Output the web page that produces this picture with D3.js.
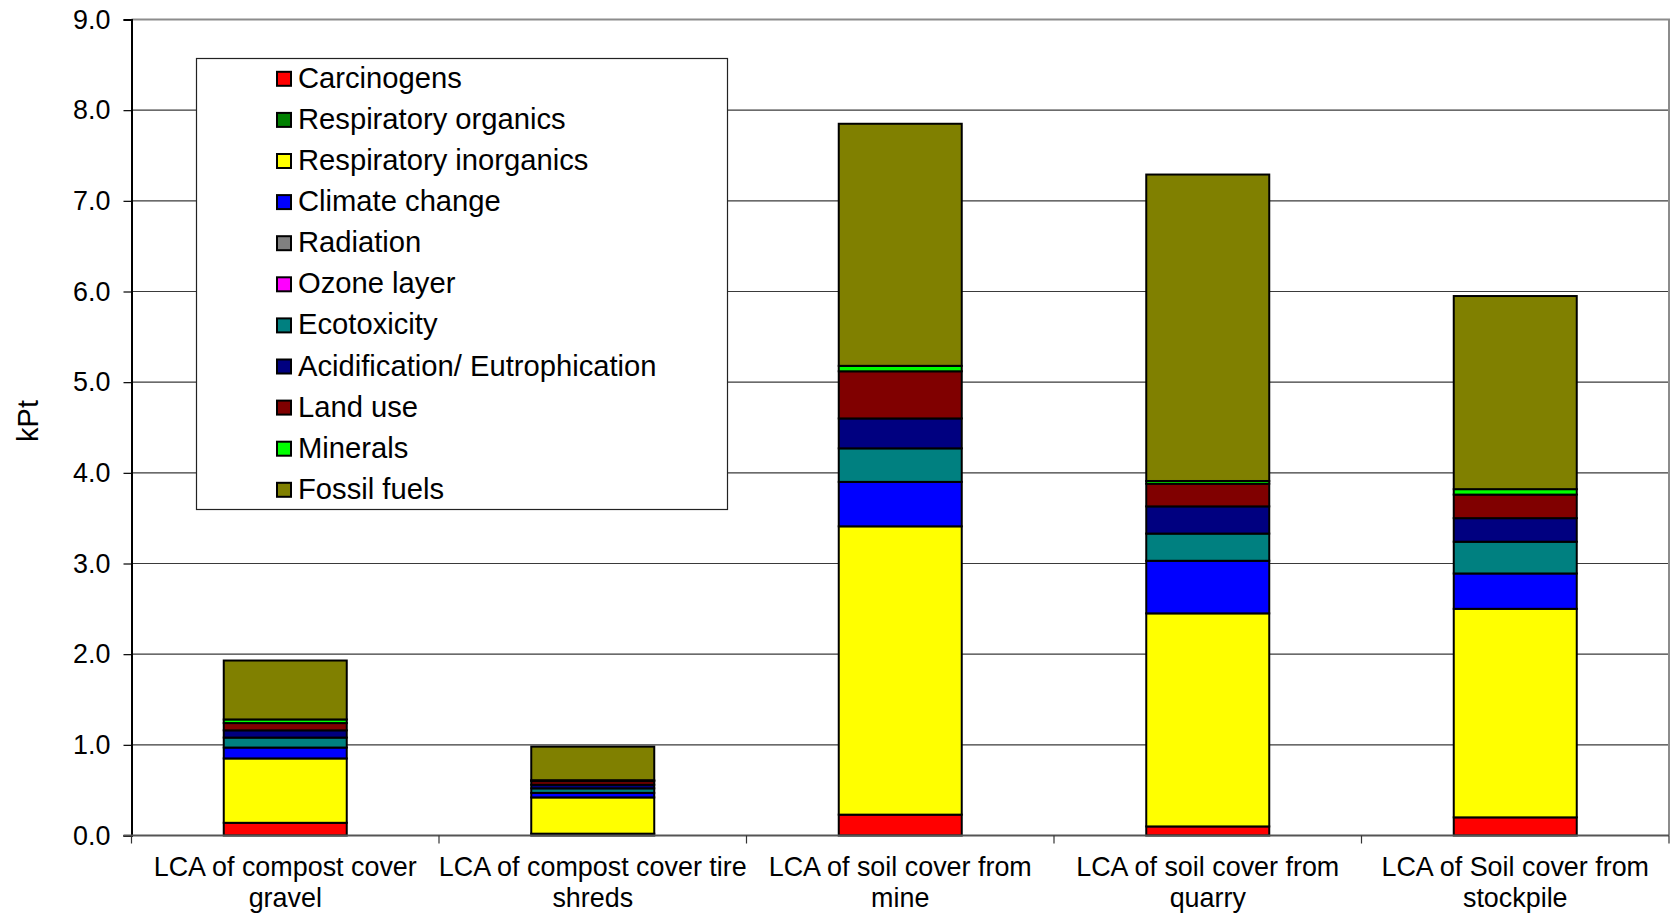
<!DOCTYPE html>
<html>
<head>
<meta charset="utf-8">
<script src="https://cdn.jsdelivr.net/npm/d3@7"></script>
<style>
  html, body { margin: 0; padding: 0; background: #fff; }
  svg { display: block; font-family: "Liberation Sans", Arial, sans-serif; }
</style>
</head>
<body>
<svg id="chart" width="1671" height="913"></svg>
<script>
// Scenarios compared (label lines)
const categories = [
  ["LCA of compost cover", "gravel"],
  ["LCA of compost cover tire", "shreds"],
  ["LCA of soil cover from", "mine"],
  ["LCA of soil cover from", "quarry"],
  ["LCA of Soil cover from", "stockpile"]
];

// Impact categories, stacked bottom to top
const seriesNames = [
  "Carcinogens", "Respiratory organics", "Respiratory inorganics", "Climate change",
  "Radiation", "Ozone layer", "Ecotoxicity", "Acidification/ Eutrophication",
  "Land use", "Minerals", "Fossil fuels"
];
const seriesColors = [
  "#FF0000", "#008000", "#FFFF00", "#0000FF",
  "#808080", "#FF00FF", "#008080", "#000080",
  "#800000", "#00FF00", "#808000"
];

// Damage scores in kPt per scenario
const carcinogens   = [0.14, 0.02, 0.23, 0.10, 0.20];
const respOrganics  = [0.00, 0.00, 0.00, 0.00, 0.00];
const respInorganic = [0.71, 0.40, 3.18, 2.35, 2.30];
const climateChange = [0.12, 0.05, 0.49, 0.58, 0.39];
const radiation     = [0.00, 0.00, 0.00, 0.00, 0.00];
const ozoneLayer    = [0.00, 0.00, 0.00, 0.00, 0.00];
const ecotoxicity   = [0.11, 0.05, 0.37, 0.30, 0.35];
const acidification = [0.08, 0.04, 0.33, 0.30, 0.26];
const landUse       = [0.08, 0.04, 0.52, 0.25, 0.26];
const minerals      = [0.04, 0.01, 0.06, 0.03, 0.06];
const fossilFuels   = [0.65, 0.37, 2.67, 3.38, 2.13];

const yTicks = [0, 1, 2, 3, 4, 5, 6, 7, 8, 9];
const yLabel = "kPt";

const seriesValues = [carcinogens, respOrganics, respInorganic, climateChange, radiation,
  ozoneLayer, ecotoxicity, acidification, landUse, minerals, fossilFuels];

// Row table for d3.stack
const rows = categories.map((c, i) => {
  const r = { key: i };
  seriesNames.forEach((s, j) => { r[s] = seriesValues[j][i]; });
  return r;
});

const svg = d3.select("#chart");
const plot = { left: 131.5, right: 1669, top: 19.5, bottom: 835.5 };
const axisFont = 26.9;

const x = d3.scaleBand()
  .domain(d3.range(categories.length))
  .range([plot.left, plot.right])
  .paddingInner(0.6).paddingOuter(0.3);
const y = d3.scaleLinear().domain([0, 9]).range([plot.bottom, plot.top]);

// Horizontal gridlines
svg.append("g").selectAll("line")
  .data(yTicks.filter(t => t > 0 && t < 9))
  .join("line")
  .attr("x1", plot.left).attr("x2", plot.right)
  .attr("y1", d => y(d)).attr("y2", d => y(d))
  .attr("stroke", "#3a3a3a").attr("stroke-width", 1.2);

// Plot frame (top and right)
svg.append("path")
  .attr("d", `M${plot.left},${plot.top}H${plot.right}V${plot.bottom}`)
  .attr("fill", "none").attr("stroke", "#8c8c8c").attr("stroke-width", 2);

// Stacked bars
const stack = d3.stack().keys(seriesNames);
const layers = stack(rows);
svg.append("g").selectAll("g")
  .data(layers)
  .join("g")
  .attr("fill", (d, i) => seriesColors[i])
  .selectAll("rect")
  .data(d => d)
  .join("rect")
  .attr("x", (d, i) => x(i))
  .attr("width", x.bandwidth())
  .attr("y", d => y(d[1]))
  .attr("height", d => y(d[0]) - y(d[1]))
  .attr("stroke", "#000").attr("stroke-width", 2);

// Y axis
const yAxis = d3.axisLeft(y).tickValues(yTicks).tickFormat(d3.format(".1f"))
  .tickSize(8).tickPadding(13);
const gy = svg.append("g").attr("transform", `translate(${plot.left},0)`).call(yAxis);
gy.select(".domain").attr("stroke", "#000").attr("stroke-width", 2);
gy.selectAll(".tick line").attr("stroke", "#000").attr("stroke-width", 1.2);
gy.selectAll(".tick text")
  .attr("font-size", axisFont).attr("fill", "#000")
  .attr("font-family", "'Liberation Sans', Arial, sans-serif");

// X axis baseline and category separators
const step = (plot.right - plot.left) / categories.length;
svg.append("line")
  .attr("x1", plot.left - 8).attr("x2", plot.right)
  .attr("y1", plot.bottom).attr("y2", plot.bottom)
  .attr("stroke", "#555").attr("stroke-width", 2);
svg.append("g").selectAll("line")
  .data(d3.range(categories.length + 1))
  .join("line")
  .attr("x1", i => plot.left + i * step).attr("x2", i => plot.left + i * step)
  .attr("y1", plot.bottom).attr("y2", plot.bottom + 8)
  .attr("stroke", "#333").attr("stroke-width", 1.2);

// Category labels (two lines)
const xl = svg.append("g").selectAll("text")
  .data(categories)
  .join("text")
  .attr("text-anchor", "middle")
  .attr("font-size", axisFont)
  .attr("fill", "#000");
xl.each(function(lines, i) {
  const cx = x(i) + x.bandwidth() / 2;
  d3.select(this).selectAll("tspan")
    .data(lines)
    .join("tspan")
    .attr("x", cx)
    .attr("y", (d, k) => 876 + k * 31)
    .text(d => d);
});

// Y axis title
svg.append("text")
  .attr("transform", "translate(38,421) rotate(-90)")
  .attr("text-anchor", "middle")
  .attr("font-size", 29)
  .attr("fill", "#000")
  .text(yLabel);

// Legend
const legend = svg.append("g");
legend.append("rect")
  .attr("x", 196.5).attr("y", 58.5).attr("width", 531).attr("height", 451)
  .attr("fill", "#fff").attr("stroke", "#222").attr("stroke-width", 1.2);
const items = legend.selectAll("g.item")
  .data(seriesNames)
  .join("g")
  .attr("class", "item")
  .attr("transform", (d, i) => `translate(0,${77.8 + i * 41.1})`);
items.append("rect")
  .attr("x", 277).attr("y", -6).attr("width", 14).attr("height", 14)
  .attr("fill", (d, i) => seriesColors[i])
  .attr("stroke", "#000").attr("stroke-width", 2);
items.append("text")
  .attr("x", 298).attr("y", 10)
  .attr("font-size", 29.2)
  .attr("fill", "#000")
  .text(d => d);
</script>
</body>
</html>
